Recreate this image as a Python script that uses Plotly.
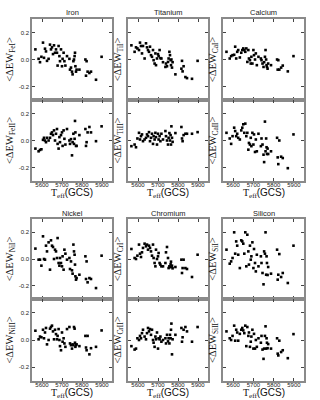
import plotly.graph_objects as go
from plotly.subplots import make_subplots

# effective temperatures (GCS), shared by every panel
teff = [5567, 5583, 5590, 5597, 5605, 5610, 5615, 5620, 5625, 5633,
        5640, 5645, 5650, 5655, 5660, 5665, 5670, 5675, 5678, 5683,
        5687, 5690, 5695, 5700, 5703, 5708, 5712, 5717, 5725, 5737,
        5740, 5745, 5750, 5753, 5757, 5760, 5763, 5765, 5767, 5770,
        5773, 5787, 5817, 5820, 5823, 5828, 5837, 5845, 5870, 5898]

fe1 = [0.075, 0.005, -0.02, 0.02, 0.125, 0.0125, 0.08, 0.06, -0.01, 0.005,
       0.11, 0.075, 0.09, 0.04, 0.105, 0.05, 0.075, 0.05, -0.045, 0.1,
       0.025, -0.0125, 0.075, -0.05, 0.005, 0.05, -0.0125, -0.045, 0.025, 0.005,
       -0.075, -0.06, -0.09, -0.11, -0.0125, 0.0, 0.025, 0.05, -0.05, -0.09,
       -0.075, -0.075, 0.0, -0.12, -0.0125, -0.09, -0.1, -0.09, -0.15, 0.02]
fe2 = [-0.06, -0.08, -0.07, -0.065, 0.005, 0.02, 0.0, -0.0125, 0.02, 0.0,
       0.02, 0.05, 0.06, 0.04, 0.075, 0.0, 0.05, 0.085, -0.025, -0.06,
       0.025, -0.0125, 0.04, 0.06, -0.04, 0.075, 0.0125, -0.03, 0.085, 0.0,
       -0.025, 0.01, -0.11, -0.0125, 0.05, -0.025, 0.0125, 0.145, 0.06, -0.04,
       -0.04, 0.04, 0.085, -0.04, -0.0125, 0.06, 0.1, 0.06, -0.005, 0.105]
ti1 = [0.105, 0.057, 0.09, 0.082, 0.07, 0.125, 0.1, 0.045, 0.1, 0.0075,
       0.12, 0.09, 0.07, 0.057, 0.095, 0.032, 0.02, 0.07, -0.005, -0.03,
       0.045, -0.042, 0.0075, 0.04, 0.025, 0.07, 0.01, 0.0075, -0.02, -0.055,
       -0.03, -0.05, -0.018, 0.0075, 0.057, 0.032, -0.005, -0.042, 0.0, -0.06,
       -0.02, -0.11, -0.068, -0.01, -0.088, -0.05, -0.13, -0.138, -0.143, -0.01]
ti2 = [-0.042, -0.03, -0.05, 0.015, 0.057, 0.0075, 0.032, 0.045, -0.005, 0.0075,
       0.02, 0.045, 0.032, 0.062, -0.005, 0.02, 0.05, -0.025, 0.032, 0.0075,
       0.057, 0.025, -0.03, 0.05, 0.0075, 0.032, -0.005, 0.05, 0.0075, 0.07,
       0.032, 0.0, -0.03, 0.02, 0.055, 0.0, 0.04, -0.03, 0.105, 0.02,
       -0.01, 0.055, 0.1, 0.015, -0.005, 0.04, 0.05, 0.05, 0.05, 0.062]
ca1 = [0.057, 0.0075, 0.025, 0.032, 0.035, 0.095, 0.0075, 0.057, 0.07, 0.015,
       0.05, 0.07, 0.082, 0.07, 0.057, 0.082, -0.018, 0.07, 0.0075, -0.005,
       -0.03, 0.02, -0.03, 0.07, 0.032, 0.0, 0.045, -0.042, 0.02, 0.0075,
       -0.005, -0.03, -0.055, -0.02, 0.02, 0.07, 0.0, -0.042, -0.055, -0.068,
       -0.03, -0.042, 0.0, -0.075, -0.005, -0.075, -0.06, -0.045, -0.088, 0.025]
ca2 = [0.057, 0.015, -0.025, 0.032, 0.095, 0.07, 0.032, 0.05, 0.02, 0.0075,
       0.075, 0.095, 0.12, 0.057, 0.125, 0.032, 0.057, -0.068, -0.018, -0.03,
       0.02, -0.042, 0.057, -0.03, 0.045, -0.085, 0.0075, -0.08, 0.05, -0.042,
       0.015, -0.03, -0.105, -0.16, 0.14, -0.08, 0.015, -0.05, -0.1, -0.06,
       -0.1, -0.08, 0.02, -0.125, -0.175, 0.0, -0.12, -0.13, -0.205, 0.045]
ni1 = [0.078, -0.005, -0.005, -0.05, 0.17, 0.0, -0.005, 0.1, 0.057, 0.125,
       -0.08, 0.14, 0.1, 0.09, 0.0, 0.07, 0.057, 0.0075, 0.157, -0.03,
       -0.05, 0.0075, -0.03, -0.055, 0.02, -0.08, 0.07, 0.04, -0.005, 0.0075,
       -0.075, -0.018, -0.085, -0.11, 0.108, 0.057, 0.032, -0.042, -0.13, -0.155,
       -0.143, -0.118, 0.02, -0.15, -0.018, -0.175, -0.143, -0.15, -0.218, 0.025]
ni2 = [0.068, 0.005, 0.025, 0.02, 0.075, 0.0125, 0.055, 0.088, -0.032, 0.0,
       0.083, 0.095, 0.105, 0.063, 0.005, 0.075, 0.043, 0.005, 0.03, 0.08,
       0.0, -0.045, -0.075, 0.055, -0.0125, 0.0125, -0.025, -0.05, 0.08, 0.095,
       -0.025, -0.038, -0.063, -0.032, -0.038, 0.095, 0.083, -0.02, -0.05, -0.038,
       -0.032, -0.045, 0.03, -0.055, -0.075, 0.03, -0.105, -0.06, -0.05, 0.07]
cr1 = [0.075, 0.0075, 0.0, 0.025, 0.108, 0.04, 0.015, 0.05, 0.083, 0.115,
       0.095, 0.108, 0.07, 0.1, 0.083, 0.057, 0.025, 0.108, 0.0075, -0.03,
       -0.055, 0.07, 0.0, 0.02, 0.045, -0.03, -0.042, -0.055, -0.055, -0.03,
       0.05, 0.09, 0.0075, -0.068, -0.055, -0.06, -0.04, -0.02, -0.06, -0.05,
       -0.07, -0.06, -0.005, -0.105, -0.068, -0.005, -0.068, -0.075, -0.135, 0.032]
cr2 = [-0.045, -0.07, -0.063, 0.0125, 0.0, 0.03, 0.0125, 0.05, 0.075, 0.025,
       0.005, 0.05, 0.088, 0.063, 0.08, 0.038, 0.075, 0.0, -0.02, -0.05,
       0.025, 0.005, 0.055, -0.063, 0.0125, 0.005, 0.025, -0.0125, 0.0, 0.0125,
       -0.025, 0.038, -0.01, 0.0125, -0.025, 0.038, 0.0125, 0.075, 0.12, -0.105,
       0.005, 0.038, 0.088, -0.0125, 0.02, 0.075, 0.095, 0.063, -0.0125, 0.095]
si1 = [0.07, -0.035, -0.018, 0.0075, 0.2, 0.04, 0.132, 0.1, 0.032, -0.068,
       0.14, 0.132, 0.115, 0.04, 0.2, -0.055, 0.182, 0.057, -0.042, 0.1,
       -0.005, 0.02, 0.125, -0.068, 0.075, -0.03, -0.093, 0.032, -0.055, 0.02,
       -0.03, -0.105, -0.19, 0.057, 0.04, 0.2, -0.118, 0.02, -0.03, -0.12,
       -0.06, -0.11, 0.07, -0.155, -0.118, 0.037, -0.135, -0.105, -0.18, 0.1]
si2 = [0.063, 0.0125, 0.0, 0.03, 0.105, -0.005, 0.075, 0.055, -0.005, 0.045,
       0.075, 0.088, 0.07, 0.05, 0.105, -0.045, 0.095, 0.03, 0.055, -0.05,
       -0.0125, 0.025, 0.075, -0.063, 0.045, -0.063, 0.0, -0.05, 0.0125, -0.02,
       0.03, -0.07, -0.138, -0.063, 0.03, 0.1, -0.063, 0.0125, -0.02, -0.06,
       -0.03, -0.063, 0.0125, -0.1, -0.113, -0.005, -0.088, -0.075, -0.133, 0.043]

elements = ["Iron", "Titanium", "Calcium", "Nickel", "Chromium", "Silicon"]
ions = [("FeI", "FeII"), ("TiI", "TiII"), ("CaI", "CaII"),
        ("NiI", "NiII"), ("CrI", "CrII"), ("SiI", "SiII")]
series = [(fe1, fe2), (ti1, ti2), (ca1, ca2), (ni1, ni2), (cr1, cr2), (si1, si2)]

ytickvals = [-0.2, 0.0, 0.2]
yticktext = ["-0.2", "0.0", "0.2"]
xtickvals = [5600, 5700, 5800, 5900]
xlabel = "T<sub>eff</sub><span style='font-family:Liberation Sans'>(GCS)</span>"

col_dom = [[0.1, 0.35], [0.4, 0.65], [0.697, 0.95]]
row_px = [(19, 100), (100, 181), (219, 299), (299, 381)]
row_dom = [[1 - b / 400, 1 - t / 400] for t, b in row_px]

FRAME = "#8a8a8a"
SANS = "Liberation Sans, Arial, sans-serif"
SERIF = "Liberation Serif, Times New Roman, serif"

fig = make_subplots(rows=4, cols=3)

for i, name in enumerate(elements):
    grp, col = divmod(i, 3)
    for k in range(2):
        row = grp * 2 + k
        n = row * 3 + col + 1
        fig.add_trace(
            go.Scatter(x=teff, y=series[i][k], mode="markers",
                       marker=dict(symbol="square", size=2.6, color="black"),
                       showlegend=False),
            row=row + 1, col=col + 1,
        )
        sfx = "" if n == 1 else str(n)
        fig.update_layout({
            "xaxis" + sfx: dict(
                domain=col_dom[col], range=[5550, 5950], tickvals=xtickvals,
                showticklabels=(k == 1), tickangle=0, ticks="inside", ticklen=3,
                tickcolor="#444", showline=True, linecolor=FRAME, linewidth=1.5,
                mirror="ticks", showgrid=False, zeroline=False, automargin=False,
                ticklabelstandoff=-3,
                tickfont=dict(family=SANS, size=6, color="#222"),
            ),
            "yaxis" + sfx: dict(
                domain=row_dom[row], range=[-0.3, 0.3], tickvals=ytickvals,
                ticktext=yticktext, showticklabels=(col == 0), ticks="inside",
                ticklen=3, tickcolor="#444", showline=True, linecolor=FRAME,
                linewidth=1.5, mirror="ticks", showgrid=False, zeroline=False,
                automargin=False,
                tickfont=dict(family=SANS, size=6, color="#222"),
                title=dict(
                    text="&lt;ΔEW<sub>%s</sub>&gt;" % ions[i][k],
                    font=dict(family=SERIF, size=10.5, color="#111"), standoff=3,
                ),
            ),
        })
    xmid = sum(col_dom[col]) / 2
    fig.add_annotation(
        text=name, xref="paper", yref="paper",
        x=xmid, y=1 - (row_px[grp * 2][0] - 6) / 400,
        xanchor="center", yanchor="middle", showarrow=False,
        font=dict(family=SANS, size=7.5, color="#222"),
    )
    fig.add_annotation(
        text=xlabel, xref="paper", yref="paper",
        x=xmid, y=1 - (row_px[grp * 2 + 1][1] + 12.5) / 400,
        xanchor="center", yanchor="middle", showarrow=False,
        font=dict(family=SERIF, size=10, color="#111"),
    )

fig.update_layout(
    width=320, height=400, margin=dict(l=0, r=0, t=0, b=0),
    plot_bgcolor="white", paper_bgcolor="white",
)

# the page's default body margin would shift the figure by 8px
fig.write_html("out.html", config={"displayModeBar": False},
               post_script="document.body.style.margin='0px';")
